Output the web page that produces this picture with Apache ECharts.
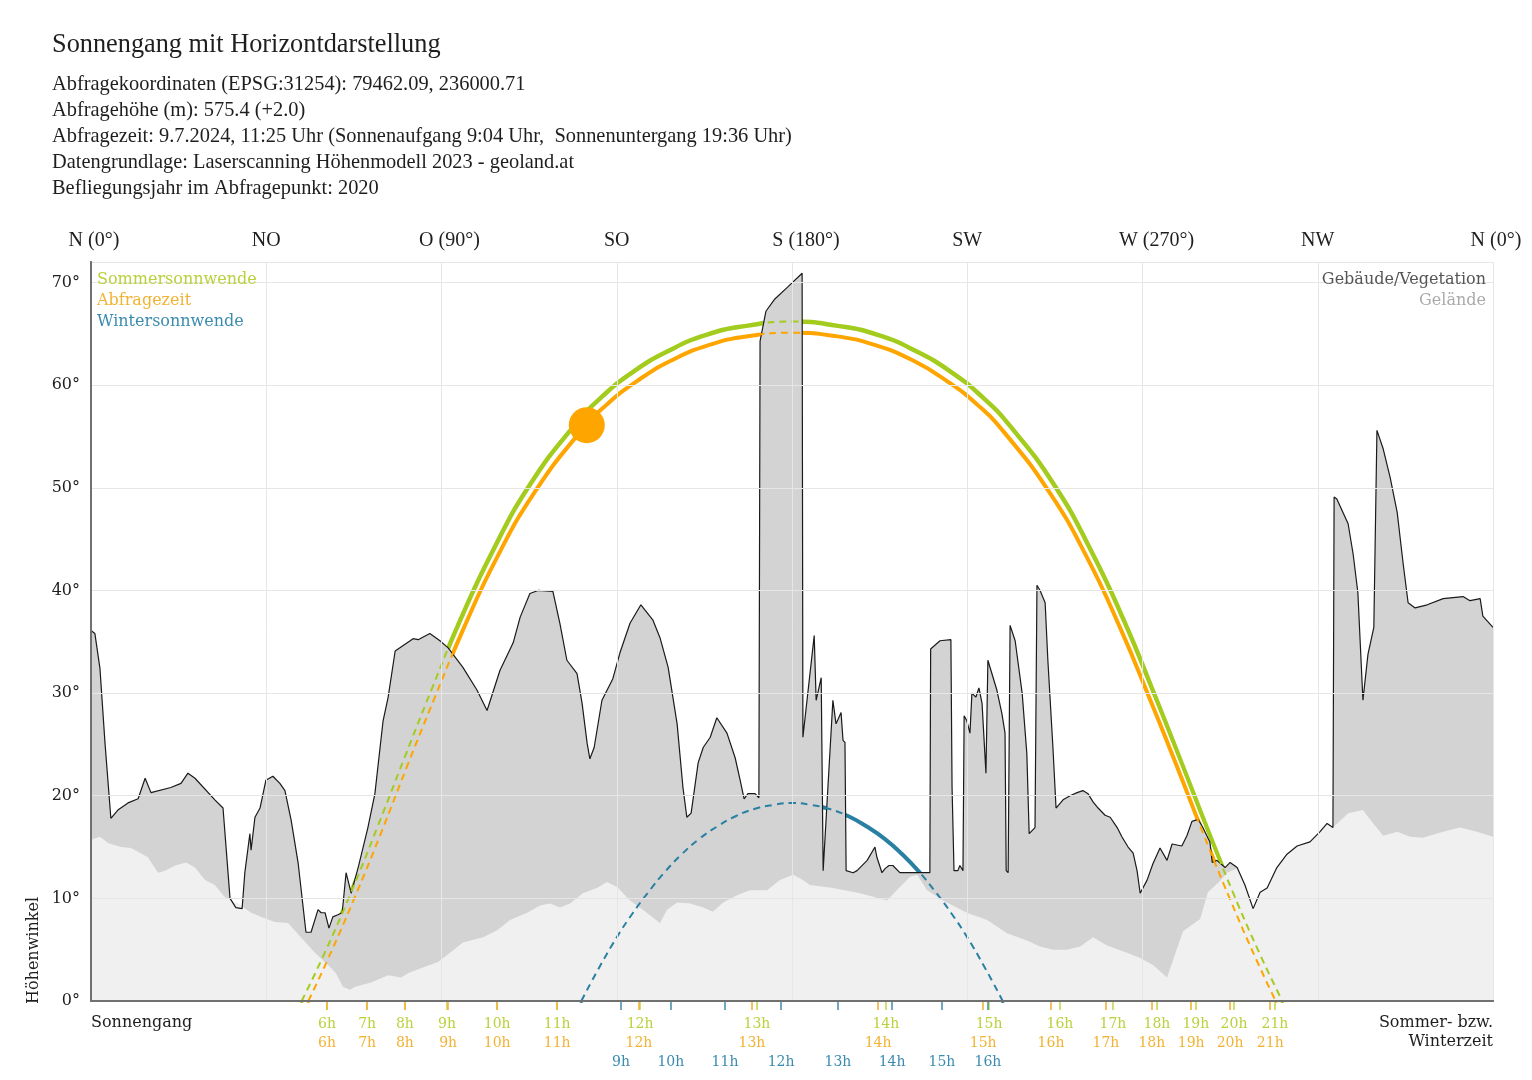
<!DOCTYPE html>
<html>
<head>
<meta charset="utf-8">
<script src="https://cdn.jsdelivr.net/npm/echarts@6/dist/echarts.min.js"></script>
<style>
html,body{margin:0;padding:0;background:#fff;}
#chart{width:1532px;height:1080px;}
</style>
</head>
<body>
<div id="chart"></div>
<script>
// ---------- DATA ----------
const titleText = 'Sonnengang mit Horizontdarstellung';
const infoLines = [
  'Abfragekoordinaten (EPSG:31254): 79462.09, 236000.71',
  'Abfragehöhe (m): 575.4 (+2.0)',
  'Abfragezeit: 9.7.2024, 11:25 Uhr (Sonnenaufgang 9:04 Uhr,  Sonnenuntergang 19:36 Uhr)',
  'Datengrundlage: Laserscanning Höhenmodell 2023 - geoland.at',
  'Befliegungsjahr im Abfragepunkt: 2020'
];
const dirTicks = [0, 45, 90, 135, 180, 225, 270, 315, 360];
const dirLabels = ['N (0°)', 'NO', 'O (90°)', 'SO', 'S (180°)', 'SW', 'W (270°)', 'NW', 'N (0°)'];

// Horizon: buildings / vegetation (azimuth °, elevation °)
const vegAz = [0.0,1.0,2.3,3.6,5.1,6.9,9.5,12.1,13.9,15.4,20.5,23.1,24.9,26.7,31.8,33.9,35.7,37.2,38.8,39.5,40.8,41.1,42.1,43.4,44.9,46.7,48.5,49.8,51.4,53.2,55.2,56.5,58.3,59.1,60.1,61.1,62.1,63.4,64.5,65.5,66.8,68.6,71.1,72.9,75.0,76.3,78.1,82.7,84.0,87.0,89.6,91.7,95.5,99.1,101.7,105.0,108.4,110.2,112.7,114.8,118.6,120.4,122.2,124.8,126.1,127.4,128.1,129.2,131.2,134.0,135.8,138.4,141.2,144.3,146.1,148.2,150.5,152.0,153.0,154.1,155.9,157.2,159.0,160.7,163.3,165.4,166.7,167.7,168.7,170.5,171.5,171.8,171.8,173.3,175.6,179.0,182.6,182.8,185.7,186.2,187.5,188.0,188.5,190.5,191.3,192.6,193.1,193.6,193.9,195.7,196.7,199.3,201.3,201.8,203.1,203.9,204.9,205.9,207.7,215.4,215.6,218.0,220.8,221.1,221.6,222.6,223.1,223.9,224.2,224.9,225.7,226.2,227.2,228.0,228.8,229.8,230.3,232.6,233.9,234.7,235.0,235.5,236.0,237.3,239.1,240.3,240.9,242.4,242.9,243.7,245.0,245.7,247.0,247.8,249.6,251.4,253.2,254.7,256.0,257.3,258.6,260.4,261.7,263.5,264.7,266.3,267.6,268.6,269.4,271.2,272.7,274.5,276.3,277.6,280.1,281.4,282.7,284.3,285.5,287.3,287.9,289.1,291.2,292.5,294.3,296.3,298.4,300.2,302.0,304.5,307.1,309.7,313.0,315.6,317.4,318.9,319.2,319.9,322.8,324.1,325.3,326.6,327.9,329.4,330.2,331.8,333.6,335.4,336.9,338.2,340.0,343.1,347.2,352.3,354.1,356.7,357.4,360.0];
const vegH = [36.1,35.8,32.4,25.1,17.8,18.6,19.3,19.7,21.7,20.3,20.8,21.2,22.2,21.7,19.6,18.8,10.0,9.1,9.0,12.5,16.3,14.7,17.9,18.8,21.5,21.9,21.2,20.5,17.6,13.4,6.7,6.7,8.9,8.6,8.6,7.1,8.2,8.4,8.6,12.5,10.5,13.0,16.9,20.2,27.3,29.6,34.1,35.3,35.2,35.8,35.1,34.4,32.5,30.3,28.3,32.2,34.9,37.4,39.7,40.0,39.9,36.8,33.2,31.9,29.0,25.1,23.6,24.7,29.3,31.4,33.9,36.8,38.6,37.1,35.4,32.5,27.0,20.8,17.9,18.3,23.2,24.7,25.7,27.6,26.1,23.7,21.5,19.7,20.2,20.2,19.8,19.8,64.3,67.2,68.4,69.6,70.9,25.7,35.6,29.3,31.5,12.7,12.7,29.3,27.0,28.1,25.4,25.2,12.7,12.5,12.7,13.7,15.0,14.0,12.5,12.9,13.2,13.2,12.5,12.5,34.3,35.1,35.2,20.8,12.7,12.7,13.2,12.7,27.8,27.3,26.1,30.0,29.6,30.5,29.0,22.2,33.2,30.3,28.0,26.1,12.7,12.5,36.6,35.1,30.0,24.1,16.3,16.9,40.5,40.0,38.8,33.2,24.7,18.8,19.6,20.0,20.3,20.5,20.2,19.4,18.8,18.1,17.9,16.9,16.0,15.0,14.4,12.7,10.5,11.8,13.4,14.9,13.7,15.3,15.1,16.1,17.5,17.7,16.9,15.5,13.5,13.7,13.0,13.5,13.0,11.3,9.0,10.6,11.0,13.0,14.3,15.1,15.5,16.5,17.3,16.9,49.1,48.9,46.5,43.5,39.8,29.3,33.8,36.4,55.6,53.8,51.0,47.6,42.7,38.8,38.3,38.6,39.2,39.4,39.0,39.2,37.5,36.4];

// Terrain (Gelände)
const terrainAz = [0.0,2.3,4.4,7.7,10.3,14.6,17.2,19.0,21.6,24.4,26.7,29.3,31.8,34.4,37.7,41.1,43.6,47.2,50.6,53.9,57.5,60.9,62.9,64.7,66.5,67.8,71.9,76.3,79.6,81.4,84.7,89.1,92.2,95.5,100.7,104.3,107.6,112.0,115.3,117.9,120.4,123.0,126.3,129.9,132.5,135.1,138.4,141.7,146.1,147.9,150.5,153.8,157.2,159.7,162.3,165.9,169.2,173.6,176.9,180.3,182.8,184.6,190.5,197.5,204.4,207.7,210.3,212.1,214.7,218.8,224.9,230.1,235.2,240.3,243.7,247.0,250.6,254.0,257.3,260.9,266.0,269.4,272.7,276.3,280.4,284.8,286.8,289.9,291.7,294.3,296.3,298.4,300.2,302.0,304.5,307.1,309.7,313.0,315.6,317.4,318.9,322.8,326.6,328.4,331.8,335.4,338.7,342.0,347.2,351.5,355.9,360.0];
const terrainH = [15.7,16.0,15.4,15.0,14.9,14.0,12.5,12.7,13.2,13.5,13.0,11.8,11.3,10.1,9.5,8.6,8.2,7.7,7.6,6.2,4.7,3.5,2.7,1.4,1.1,1.4,1.8,2.5,2.3,2.7,3.2,3.8,4.7,5.7,6.2,6.9,7.9,8.6,9.3,9.5,9.1,9.5,10.5,11.0,11.6,11.1,9.8,8.9,7.6,8.9,9.6,9.5,9.1,8.7,9.6,10.3,10.8,10.8,11.8,12.3,11.8,11.3,11.0,10.5,9.8,11.1,12.1,12.3,10.8,9.8,8.6,7.9,6.6,5.9,5.3,5.0,5.0,5.3,6.2,5.4,4.7,4.2,3.5,2.3,6.8,8.0,10.6,11.7,12.5,12.9,11.3,9.0,10.6,11.0,13.0,14.3,15.1,15.5,16.5,17.3,16.9,18.3,18.6,17.7,16.1,16.5,16.0,15.9,16.5,16.9,16.5,16.0];

// Sun paths (azimuth °, elevation °)
const summerAz = [54.1,59.9,66.8,73.6,80.4,87.4,94.8,103.1,112.7,124.4,131.3,139.2,148.1,158.0,168.7,180.0,191.3,202.0,211.9,220.8,228.7,235.6,247.3,256.9,265.2,272.6,279.6,286.4,293.2,300.1,305.9];
const summerH = [0,4.6,10.6,17.0,23.6,30.3,37.1,43.8,50.3,56.2,58.9,61.3,63.3,64.9,65.8,66.2,65.8,64.9,63.3,61.3,58.9,56.2,50.3,43.8,37.1,30.3,23.6,17.0,10.6,4.6,0];
const queryAz = [55.8,60.5,67.5,74.4,81.2,88.3,95.8,104.1,113.8,125.5,132.4,140.2,149.0,158.6,169.1,180.0,190.9,201.4,211.1,219.8,227.6,234.5,246.2,255.9,264.2,271.7,278.8,285.6,292.5,299.5,304.2];
const queryH = [0,3.8,9.9,16.3,22.9,29.6,36.4,43.1,49.5,55.4,58.1,60.4,62.4,63.9,64.8,65.1,64.8,63.9,62.4,60.4,58.1,55.4,49.5,43.1,36.4,29.6,22.9,16.3,9.9,3.8,0];
const winterAz = [125.9,130.4,135.0,139.0,143.1,147.4,151.7,156.2,160.8,165.5,170.3,175.1,180.0,184.9,189.7,194.5,199.2,203.8,208.3,212.6,216.9,221.0,225.0,229.6,234.1];
const winterH = [0,3.2,6.2,8.5,10.6,12.6,14.3,15.8,17.0,18.0,18.7,19.1,19.3,19.1,18.7,18.0,17.0,15.8,14.3,12.6,10.6,8.5,6.2,3.2,0];
const sunNow = [127.3, 56.1];

// Hour marks (azimuth of each full hour)
const summerHourLabels = ['6h','7h','8h','9h','10h','11h','12h','13h','14h','15h','16h','17h','18h','19h','20h','21h'];
const summerHourAz = [60.6,70.9,80.6,91.4,104.3,119.7,141.0,171.0,204.1,230.6,248.8,262.4,273.7,283.7,293.5,304.0];
const queryHourLabels = ['6h','7h','8h','9h','10h','11h','12h','13h','14h','15h','16h','17h','18h','19h','20h','21h'];
const queryHourAz = [60.6,70.9,80.6,91.7,104.3,119.7,140.7,169.7,202.1,229.1,246.5,260.6,272.4,282.5,292.5,302.8];
const winterHourLabels = ['9h','10h','11h','12h','13h','14h','15h','16h'];
const winterHourAz = [136.1,148.9,162.8,177.2,191.8,205.7,218.5,230.3];

// ---------- STYLE ----------
const C_GREEN = '#a3cc1e', C_ORANGE = '#ffa500', C_TEAL = '#2a80a2';
const T_GREEN = '#b8d23c', T_ORANGE = '#f3b232', T_TEAL = '#3a8cae';
const SERIF_IN = '"DejaVu Serif", serif';
const SERIF_HEAD = '"Liberation Serif", "Times New Roman", serif';
const FRAME = '#707070', GRID = '#e6e6e6';

const pairs = (xs, ys) => xs.map((x, i) => [x, ys[i]]);
function labelFor(azs, labels) {
  return function (v) {
    for (let i = 0; i < azs.length; i++) if (Math.abs(azs[i] - v) < 1e-6) return labels[i];
    return '';
  };
}
// direction labels: the bracketed ones sit a little right of their tick
const dirShift = { 'N (0°)': 'n', 'O (90°)': 'o', 'S (180°)': 's', 'W (270°)': 's' };
function dirFormatter(v) {
  const t = labelFor(dirTicks, dirLabels)(v);
  if (!t) return '';
  const k = dirShift[t];
  return k ? '{' + k + '|' + t + '}' : '{p|' + t + '}';
}
function hourAxis(azs, labels, tickColor, textColor, margin) {
  return {
    type: 'value', min: 0, max: 360, position: 'bottom', gridIndex: 0,
    axisLine: { show: false },
    splitLine: { show: false },
    axisTick: { show: true, customValues: azs, length: 9, lineStyle: { color: tickColor, width: 1.6 } },
    axisLabel: { show: true, customValues: azs, formatter: labelFor(azs, labels), margin: margin,
      color: textColor, fontFamily: SERIF_IN, fontSize: 14 },
    z: 9
  };
}
function sunLine(data, color, width, dashed, z) {
  return {
    type: 'line', data: data, symbol: 'none', showSymbol: false, smooth: 0.5,
    lineStyle: { color: color, width: width, type: dashed ? [7, 5] : 'solid', cap: dashed ? 'butt' : 'round' },
    z: z, silent: true
  };
}

const headFont = '20.4px ' + SERIF_HEAD;
const graphics = [];
graphics.push({ type: 'text', x: 52, y: 45, style: { text: titleText, font: '26.3px ' + SERIF_HEAD, fill: '#1e1e1e', textVerticalAlign: 'middle' } });
infoLines.forEach((t, i) => {
  graphics.push({ type: 'text', x: 52, y: 85 + i * 26, style: { text: t, font: headFont, fill: '#1e1e1e', textVerticalAlign: 'middle' } });
});
graphics.push({ type: 'text', x: 97, y: 280, z: 20, style: { text: 'Sommersonnwende', font: '16px ' + SERIF_IN, fill: T_GREEN, textVerticalAlign: 'middle' } });
graphics.push({ type: 'text', x: 97, y: 301, z: 20, style: { text: 'Abfragezeit', font: '16px ' + SERIF_IN, fill: T_ORANGE, textVerticalAlign: 'middle' } });
graphics.push({ type: 'text', x: 97, y: 322, z: 20, style: { text: 'Wintersonnwende', font: '16px ' + SERIF_IN, fill: T_TEAL, textVerticalAlign: 'middle' } });
graphics.push({ type: 'text', x: 1486, y: 280, z: 20, style: { text: 'Gebäude/Vegetation', font: '16px ' + SERIF_IN, fill: '#555555', textAlign: 'right', textVerticalAlign: 'middle' } });
graphics.push({ type: 'text', x: 1486, y: 301, z: 20, style: { text: 'Gelände', font: '16px ' + SERIF_IN, fill: '#aaaaaa', textAlign: 'right', textVerticalAlign: 'middle' } });
graphics.push({ type: 'text', x: 91, y: 1023, style: { text: 'Sonnengang', font: '16px ' + SERIF_IN, fill: '#1e1e1e', textVerticalAlign: 'middle' } });
graphics.push({ type: 'text', x: 1493, y: 1023, style: { text: 'Sommer- bzw.', font: '16px ' + SERIF_IN, fill: '#1e1e1e', textAlign: 'right', textVerticalAlign: 'middle' } });
graphics.push({ type: 'text', x: 1493, y: 1042, style: { text: 'Winterzeit', font: '16px ' + SERIF_IN, fill: '#1e1e1e', textAlign: 'right', textVerticalAlign: 'middle' } });
graphics.push({ type: 'text', x: 34, y: 1004, rotation: Math.PI / 2, style: { text: 'Höhenwinkel', font: '16px ' + SERIF_IN, fill: '#1e1e1e', textAlign: 'left', textVerticalAlign: 'middle' } });

const dirRichBase = { color: '#1e1e1e', fontFamily: SERIF_HEAD, fontSize: 20 };
const chart = echarts.init(document.getElementById('chart'), null, { renderer: 'canvas' });
chart.setOption({
  animation: false,
  backgroundColor: '#ffffff',
  grid: { left: 91, right: 39, top: 262, bottom: 79, containLabel: false, outerBoundsMode: 'none' },
  xAxis: [
    { type: 'value', min: 0, max: 360, interval: 45, position: 'bottom',
      axisLine: { show: true, lineStyle: { color: FRAME, width: 2 } },
      axisTick: { show: false }, axisLabel: { show: false },
      splitLine: { show: true, lineStyle: { color: GRID, width: 1 } }, z: 10 },
    { type: 'value', min: 0, max: 360, interval: 45, position: 'top',
      axisLine: { show: true, lineStyle: { color: FRAME, width: 2 } },
      axisTick: { show: false },
      axisLabel: { show: true, margin: 11, showMinLabel: true, showMaxLabel: true,
        formatter: dirFormatter, color: '#1e1e1e', fontFamily: SERIF_HEAD, fontSize: 20,
        rich: {
          p: Object.assign({}, dirRichBase),
          n: Object.assign({ padding: [0, 0, 0, 6] }, dirRichBase),
          o: Object.assign({ padding: [0, 0, 0, 16] }, dirRichBase),
          s: Object.assign({ padding: [0, 0, 0, 28] }, dirRichBase)
        } },
      splitLine: { show: false }, z: 10 },
    hourAxis(summerHourAz, summerHourLabels, '#c4d84e', T_GREEN, 16),
    hourAxis(queryHourAz, queryHourLabels, '#f2b437', T_ORANGE, 35),
    hourAxis(winterHourAz, winterHourLabels, '#4a93b2', T_TEAL, 54)
  ],
  yAxis: [
    { type: 'value', min: 0, max: 72, interval: 10,
      axisLine: { show: true, lineStyle: { color: FRAME, width: 2 } },
      axisTick: { show: false },
      axisLabel: { margin: 11, showMaxLabel: false, formatter: v => (v % 10 === 0 ? v + '°' : ''),
        color: '#1e1e1e', fontFamily: SERIF_IN, fontSize: 16 },
      splitLine: { show: true, lineStyle: { color: GRID, width: 1 } }, z: 10 },
    { type: 'value', min: 0, max: 72, interval: 10, position: 'right',
      axisLine: { show: true, lineStyle: { color: FRAME, width: 2 } },
      axisTick: { show: false }, axisLabel: { show: false }, splitLine: { show: false }, z: 10 }
  ],
  graphic: graphics,
  series: [
    // visible (solid) sun paths, later covered by the horizon fill where hidden
    sunLine(pairs(summerAz, summerH), C_GREEN, 4.5, false, 2),
    sunLine(pairs(queryAz, queryH), '#ffffff', 7, false, 2),
    sunLine(pairs(queryAz, queryH), C_ORANGE, 4, false, 2),
    sunLine(pairs(winterAz, winterH), C_TEAL, 4, false, 2),
    { type: 'line', data: pairs(vegAz, vegH), symbol: 'none', showSymbol: false,
      lineStyle: { opacity: 0 }, areaStyle: { color: '#d3d3d3', opacity: 1 }, z: 3, silent: true },
    { type: 'line', data: pairs(terrainAz, terrainH), symbol: 'none', showSymbol: false,
      lineStyle: { opacity: 0 }, areaStyle: { color: '#f0f0f0', opacity: 1 }, z: 4, silent: true },
    { type: 'line', data: pairs(vegAz, vegH), symbol: 'none', showSymbol: false,
      lineStyle: { color: '#1a1a1a', width: 1.2 }, z: 5, silent: true },
    // hidden parts (dashed) on top
    sunLine(pairs(summerAz, summerH), C_GREEN, 2, true, 6),
    sunLine(pairs(queryAz, queryH), C_ORANGE, 2, true, 6),
    sunLine(pairs(winterAz, winterH), C_TEAL, 2, true, 6),
    { type: 'scatter', data: [sunNow], symbol: 'circle', symbolSize: 36,
      itemStyle: { color: C_ORANGE, opacity: 1 }, z: 7, silent: true }
  ]
});
</script>
</body>
</html>
